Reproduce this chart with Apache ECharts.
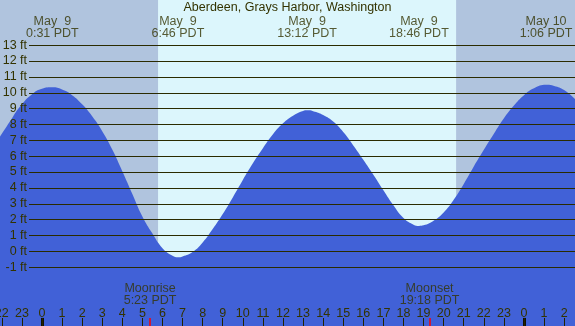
<!DOCTYPE html>
<html><head><meta charset="utf-8">
<script src="https://cdn.jsdelivr.net/npm/echarts@6/dist/echarts.min.js"></script>
<style>html,body{margin:0;padding:0;background:#fff}#c{width:575px;height:326px}</style>
</head><body><div id="c"></div>
<script>
// ---- data (hours since May 9 00:00 PDT, tide height in ft) ----
const hours   = [-2.09,-1.59,-1.10,-0.45,0.0,0.52,1.0,1.5,2.0,2.5,3.0,3.5,4.0,4.5,5.0,5.5,6.0,6.5,6.77,7.0,7.5,8.0,8.5,9.0,9.5,10.0,10.5,11.0,11.5,12.0,12.5,13.0,13.2,13.5,14.0,14.5,15.0,15.5,16.0,16.5,17.0,17.5,18.0,18.5,18.77,19.0,19.5,20.0,20.5,21.0,21.5,22.0,22.5,23.0,23.5,24.0,24.5,25.1,25.5,26.0,26.54];
const heights = [7.23,8.2,9.12,9.95,10.25,10.34,10.2,9.85,9.27,8.52,7.58,6.42,5.05,3.62,2.2,1.12,0.2,-0.28,-0.38,-0.33,-0.05,0.55,1.4,2.35,3.4,4.5,5.55,6.5,7.38,8.07,8.55,8.85,8.89,8.84,8.6,8.18,7.52,6.68,5.78,4.83,3.85,2.9,2.1,1.68,1.60,1.64,1.93,2.45,3.25,4.25,5.35,6.4,7.42,8.4,9.2,9.85,10.28,10.5,10.43,10.17,9.6];
const levels = [-1,0,1,2,3,4,5,6,7,8,9,10,11,12,13];
const extremeTimes = [0.517, 6.767, 13.2, 18.767, 25.1];
const extremeDates = ['May  9','May  9','May  9','May  9','May 10'];
const extremeClock = ['0:31 PDT','6:46 PDT','13:12 PDT','18:46 PDT','1:06 PDT'];
const hourTicks = [-2,-1,0,1,2,3,4,5,6,7,8,9,10,11,12,13,14,15,16,17,18,19,20,21,22,23,24,25,26];
const dayStarts = [0, 24];
const sunrise = 5.78, sunset = 20.62;
const moonNames = ['Moonrise','Moonset'];
const moonTimes = [5.383, 19.3];
const moonClock = ['5:23 PDT','19:18 PDT'];
const title = 'Aberdeen, Grays Harbor, Washington';

// ---- layout ----
const X0 = -2.09, X1 = 26.54, Y0 = -4.71, Y1 = 15.85;
const lineStart = -0.645;
const tickTop = -4.2;
const FONT = 'Liberation Sans, Arial, sans-serif';
const FS = 12.5;
const TXT = '#333300';

const chart = echarts.init(document.getElementById('c'), null, {renderer:'canvas'});
chart.setOption({
  animation:false,
  backgroundColor:'#dcf6fc',
  title:{text:title,left:'center',top:1,padding:0,textStyle:{fontFamily:FONT,fontSize:FS,fontWeight:'normal',color:TXT}},
  grid:{left:0,right:0,top:0,bottom:0,outerBoundsMode:'none',containLabel:false},
  xAxis:{type:'value',min:X0,max:X1,z:10,
    axisLine:{show:false,onZero:false},splitLine:{show:false},
    axisTick:{show:true,inside:true,length:8,customValues:hourTicks,lineStyle:{color:'#222200',width:1}},
    axisLabel:{show:true,inside:true,margin:6,customValues:hourTicks,fontFamily:FONT,fontSize:FS,color:TXT,
      hideOverlap:false,showMinLabel:true,showMaxLabel:true,
      formatter:v=>String(((Math.round(v)%24)+24)%24)}},
  yAxis:{type:'value',min:Y0,max:Y1,show:false},
  series:[
    {type:'line',data:[],z:1,silent:true,
      markArea:{silent:true,itemStyle:{color:'#b0c4de'},
        data:[[{xAxis:X0},{xAxis:sunrise}],[{xAxis:sunset},{xAxis:X1}]]}},
    {type:'line',z:2,data:hours.map((h,i)=>[h,heights[i]]),smooth:0.5,showSymbol:false,
      lineStyle:{width:0},areaStyle:{color:'#4161d7',opacity:1,origin:'start'}},
    {type:'line',data:[],z:3,silent:true,
      markLine:{silent:true,symbol:'none',animation:false,
        lineStyle:{color:'#2b2b00',width:1,type:'solid'},
        label:{show:true,position:'start',distance:2,fontFamily:FONT,fontSize:FS,color:TXT},
        data:levels.map(v=>[{coord:[lineStart,v],label:{formatter:v+' ft'}},{coord:[X1,v]}])
          .concat(dayStarts.map(d=>[{coord:[d,Y0],lineStyle:{color:'#111100',width:3},label:{show:false}},{coord:[d,tickTop]}]))
          .concat(moonTimes.map(t=>[{coord:[t,Y0],lineStyle:{color:'#ff0000',width:1.5},label:{show:false}},{coord:[t,tickTop]}]))
      }},
    {type:'scatter',z:4,symbolSize:0,silent:true,
      data:extremeTimes.map((t,i)=>({value:[t,14.1],label:{formatter:extremeDates[i]+'\n'+extremeClock[i]}})),
      label:{show:true,position:'inside',fontFamily:FONT,fontSize:FS,lineHeight:11.5,color:TXT,align:'center',verticalAlign:'middle'}},
    {type:'scatter',z:4,symbolSize:0,silent:true,
      data:moonTimes.map((t,i)=>({value:[t,-2.74],label:{formatter:moonNames[i]+'\n'+moonClock[i]}})),
      label:{show:true,position:'inside',fontFamily:FONT,fontSize:FS,lineHeight:12,color:TXT,align:'center',verticalAlign:'middle'}}
  ]
});
</script></body></html>
